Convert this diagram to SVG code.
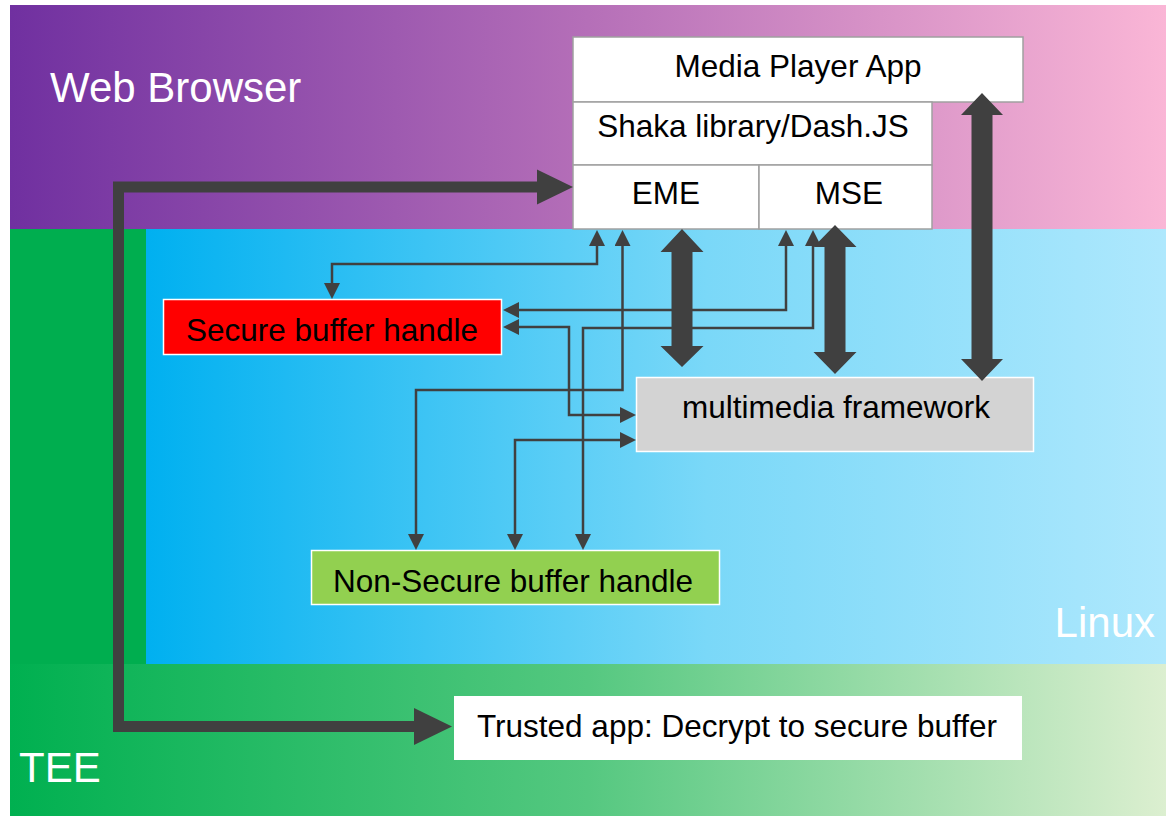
<svg xmlns="http://www.w3.org/2000/svg" width="1166" height="817" viewBox="0 0 1166 817">
<defs>
<linearGradient id="gPurple" x1="0" y1="0" x2="1" y2="0"><stop offset="0" stop-color="#7030A0"/><stop offset="0.5" stop-color="#B56FB8"/><stop offset="1" stop-color="#FAB6D6"/></linearGradient>
<linearGradient id="gBlue" x1="0" y1="0" x2="1" y2="0"><stop offset="0" stop-color="#00B0F0"/><stop offset="0.55" stop-color="#7AD8F8"/><stop offset="1" stop-color="#AEE8FD"/></linearGradient>
<linearGradient id="gGreen" x1="0" y1="0" x2="1" y2="0"><stop offset="0" stop-color="#00B050"/><stop offset="0.5" stop-color="#55C880"/><stop offset="1" stop-color="#DCEFD0"/></linearGradient>
<marker id="ah" markerUnits="userSpaceOnUse" markerWidth="16" markerHeight="16" viewBox="0 0 16 16" refX="8" refY="8" orient="auto-start-reverse"><path d="M0,0 L16,8 L0,16 z" fill="#404040"/></marker>
</defs>
<style>
.lbl{font-family:"Liberation Sans",Arial,sans-serif;fill:#000;font-size:31.5px;text-anchor:middle}
.reg{font-family:"Liberation Sans",Arial,sans-serif;fill:#fff;font-size:42px}
.wbox{fill:#fff;stroke:#A0A0A0;stroke-width:1.5}
.thin{fill:none;stroke:#404040;stroke-width:2.5;marker-start:url(#ah);marker-end:url(#ah)}
.thick{fill:#404040}
</style>
<rect width="1166" height="817" fill="#fff"/>
<g id="region-browser"><rect x="10" y="5" width="1156" height="224" fill="url(#gPurple)"/><text class="reg" x="50" y="102">Web Browser</text></g>
<g id="region-linux"><rect x="146" y="229" width="1020" height="435" fill="url(#gBlue)"/><text class="reg" x="1155" y="637" text-anchor="end">Linux</text></g>
<g id="region-tee"><rect x="10" y="229" width="136" height="435" fill="#00AE4F"/><rect x="10" y="664" width="1156" height="152" fill="url(#gGreen)"/><text class="reg" x="19" y="782">TEE</text></g>

<g id="media-player-app"><rect class="wbox" x="573" y="37" width="450" height="65"/><text class="lbl" x="798" y="77">Media Player App</text></g>
<g id="shaka"><rect class="wbox" x="573" y="102" width="359" height="63"/><text class="lbl" x="753" y="137">Shaka library/Dash.JS</text></g>
<g id="eme"><rect class="wbox" x="573" y="165" width="186" height="64"/><text class="lbl" x="666" y="204">EME</text></g>
<g id="mse"><rect class="wbox" x="759" y="165" width="173" height="64"/><text class="lbl" x="849" y="204">MSE</text></g>
<g id="secure-buffer"><rect x="163.5" y="299.5" width="338" height="55" fill="#FF0000" stroke="#fff" stroke-width="1.5"/><text class="lbl" x="332" y="341">Secure buffer handle</text></g>
<g id="framework"><rect x="636.5" y="377.5" width="397" height="74" fill="#D3D3D3" stroke="#fff" stroke-width="1.5"/><text class="lbl" x="836" y="418">multimedia framework</text></g>
<g id="nonsecure-buffer"><rect x="311.5" y="550.5" width="408" height="54" fill="#92D050" stroke="#fff" stroke-width="1.5"/><text class="lbl" x="513" y="592">Non-Secure buffer handle</text></g>
<g id="trusted-app"><rect x="454" y="696" width="568" height="64" fill="#fff"/><text class="lbl" x="737" y="737">Trusted app: Decrypt to secure buffer</text></g>

<g id="connectors">
<path class="thin" d="M597,238 V264 H332 V291"/>
<path class="thin" d="M622.5,238 V390 H416 V542"/>
<path class="thin" d="M786,238 V310 H511"/>
<path class="thin" d="M813,238 V328 H583 V542"/>
<path class="thin" d="M511,327 H569 V415 H628"/>
<path class="thin" d="M515,542 V440 H628"/>
<polygon class="thick" points="682,229 703.5,252 692.5,252 692.5,346 703.5,346 682,367 660.5,346 671.5,346 671.5,252 660.5,252"/>
<polygon class="thick" points="835,225 856.5,247 845.5,247 845.5,352 856.5,352 835,374 813.5,352 824.5,352 824.5,247 813.5,247"/>
<polygon class="thick" points="982,93 1003,115 992.5,115 992.5,359 1003,359 982,381 961,359 971.5,359 971.5,115 961,115"/>
<polyline fill="none" stroke="#404040" stroke-width="11" stroke-linejoin="miter" points="538,187 118.5,187 118.5,726.5 415,726.5"/>
<polygon class="thick" points="573,187 537,169.5 537,204.5"/>
<polygon class="thick" points="452,726.5 414,708 414,745"/>
</g>
</svg>
